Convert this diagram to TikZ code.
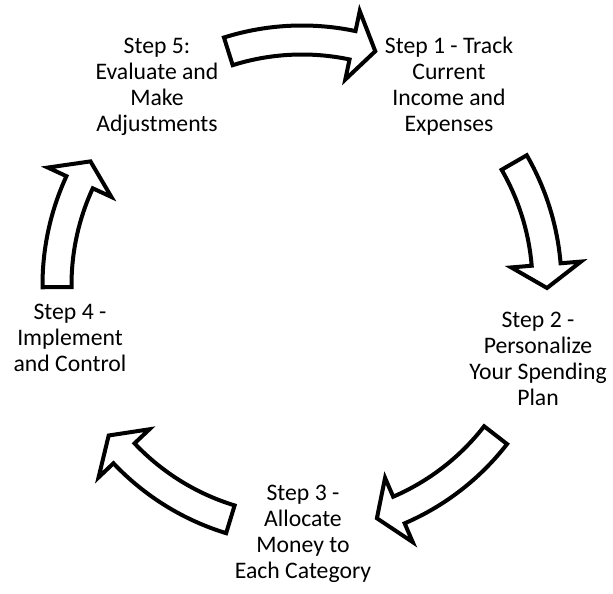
\documentclass[tikz,border=0pt]{standalone}
\usepackage{fontspec}
\setmainfont{Carlito}
% curved block arrow round the cycle: #1 tail angle, #2 tip angle
\newcommand{\cyclearrow}[2]{%
  \pgfmathsetmacro{\headang}{#2+5.5}%
  \draw[cycarrow] (#1:259.5) arc[start angle=#1, end angle=\headang, radius=259.5]
    -- (\headang:280) -- (#2:245) -- (\headang:210) -- (\headang:230.5)
    arc[start angle=\headang, end angle=#1, radius=230.5] -- cycle;}

\begin{document}
\begin{tikzpicture}[x=0.5pt,y=0.5pt,
   stepnode/.style={align=center, inner sep=0pt, font=\fontsize{11.85}{13}\selectfont},
   cycarrow/.style={draw=black, fill=white, line width=2pt}]
\useasboundingbox (0,0) rectangle (613,-593);
%
       \node [stepnode] at (449,-86) (s1) {Step 1 - Track\\Current\\Income and\\Expenses};
          \node [stepnode] at (538,-359) (s2) {Step 2 -\\Personalize\\Your Spending\\Plan};
             \node [stepnode] at (303,-534) (s3) {Step 3 -\\Allocate\\Money to\\Each Category};
                \node [stepnode] at (70,-338) (s4) {Step 4 -\\Implement\\and Control};
                   \node [stepnode] at (157,-87) (s5) {Step 5:\\Evaluate and\\Make\\Adjustments};
%
%
\begin{scope}[shift={(302,-285)}]
\cyclearrow{107.5}{72.6}   % s5 to s1
\cyclearrow{30}{-0.7}      % s1 to s2
\cyclearrow{-37.8}{-72.2}  % s2 to s3
\cyclearrow{-107}{-142.1}  % s3 to s4
\cyclearrow{180.5}{149.7}  % s4 to s5
\end{scope}

\end{tikzpicture}
\end{document}
